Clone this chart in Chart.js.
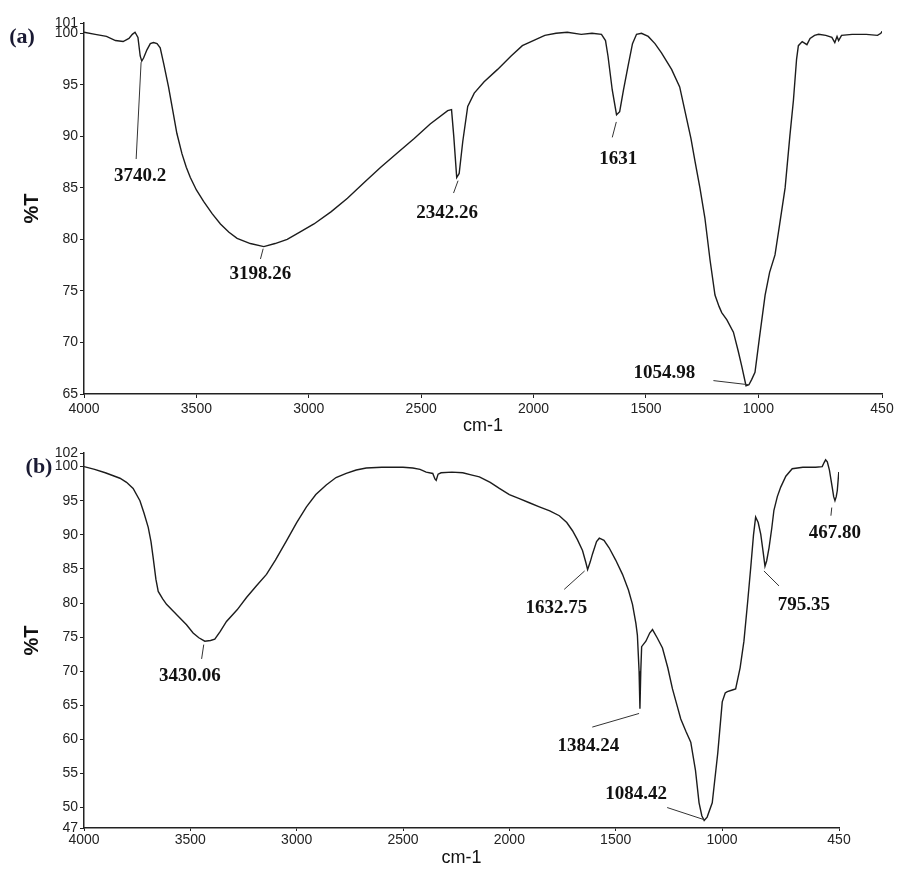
<!DOCTYPE html>
<html>
<head>
<meta charset="utf-8">
<script src="https://cdn.jsdelivr.net/npm/chart.js@4.4.1/dist/chart.umd.min.js"></script>
<style>
  body { margin: 0; background: #fff; }
  #wrap { position: relative; width: 899px; height: 869px; }
  canvas { position: absolute; left: 0; }
</style>
</head>
<body>
<div id="wrap">
  <canvas id="ftir-a" width="899" height="440" style="top:0"></canvas>
  <canvas id="ftir-b" width="899" height="429" style="top:440px"></canvas>
</div>
<script>
// spectrum (a) - wavenumber (cm-1) and %T
const waveA = [4000, 3950, 3900, 3860, 3826, 3800, 3785, 3773, 3760, 3750, 3743, 3735, 3720, 3705, 3691, 3675, 3661, 3645, 3624, 3605,
  3587, 3564, 3545, 3527, 3500, 3468, 3430, 3393, 3355, 3319, 3260, 3200, 3150, 3096, 3040, 2977, 2900, 2828, 2750, 2680,
  2600, 2531, 2460, 2382, 2365, 2355, 2342, 2331, 2315, 2293, 2264, 2220, 2160, 2100, 2050, 2011, 1950, 1900, 1850, 1788,
  1740, 1698, 1680, 1669, 1650, 1631, 1617, 1600, 1580, 1560, 1542, 1520, 1490, 1460, 1431, 1386, 1350, 1327, 1300, 1282,
  1260, 1238, 1215, 1193, 1175, 1163, 1140, 1111, 1090, 1074, 1055, 1042, 1030, 1015, 995, 970, 950, 926, 905, 881,
  860, 844, 830, 822, 805, 784, 770, 750, 732, 700, 673, 660, 650, 643, 630, 583, 520, 470, 455, 450];
const transA = [100.1, 99.9, 99.7, 99.3, 99.2, 99.5, 99.9, 100.1, 99.6, 97.8, 97.3, 97.6, 98.4, 99.0, 99.1, 99.0, 98.6, 97.0, 94.8, 92.5,
  90.3, 88.3, 87.0, 86.0, 84.8, 83.7, 82.5, 81.5, 80.7, 80.1, 79.6, 79.3, 79.6, 80.0, 80.7, 81.5, 82.7, 84.0, 85.6, 87.0,
  88.5, 89.8, 91.2, 92.5, 92.6, 90.0, 86.0, 86.4, 89.5, 92.9, 94.2, 95.3, 96.5, 97.8, 98.8, 99.2, 99.8, 100.0, 100.1, 99.9,
  100.0, 99.9, 99.3, 97.8, 94.5, 92.1, 92.4, 94.5, 96.8, 99.0, 99.9, 100.0, 99.7, 99.0, 98.1, 96.5, 94.8, 92.5, 89.8, 87.6,
  85.0, 82.1, 78.0, 74.6, 73.5, 72.9, 72.2, 71.0, 69.2, 67.7, 65.8, 65.9, 66.4, 67.1, 70.5, 74.6, 76.8, 78.5, 81.5, 85.0,
  90.0, 93.5, 97.5, 98.8, 99.2, 98.9, 99.5, 99.8, 99.9, 99.8, 99.6, 99.1, 99.7, 99.3, 99.8, 99.9, 99.9, 99.8, 100.0, 100.2];

// spectrum (b)
const waveB = [4000, 3950, 3900, 3831, 3800, 3769, 3737, 3718, 3698, 3685, 3675, 3662, 3651, 3630, 3612, 3580, 3549, 3518, 3487, 3460,
  3432, 3405, 3385, 3360, 3330, 3280, 3236, 3190, 3142, 3100, 3048, 3000, 2954, 2910, 2861, 2815, 2767, 2720, 2673, 2600,
  2500, 2454, 2420, 2391, 2360, 2350, 2344, 2335, 2321, 2270, 2219, 2180, 2141, 2090, 2047, 2000, 1953, 1906, 1859, 1810,
  1765, 1730, 1703, 1680, 1656, 1640, 1632, 1620, 1609, 1590, 1577, 1555, 1531, 1500, 1468, 1440, 1421, 1405, 1398, 1390,
  1386, 1382, 1378, 1358, 1340, 1327, 1305, 1280, 1255, 1233, 1210, 1194, 1170, 1147, 1125, 1108, 1095, 1084, 1070, 1046,
  1020, 999, 985, 975, 955, 936, 915, 897, 880, 865, 852, 842, 830, 818, 808, 798, 790, 779, 766, 756,
  740, 724, 700, 670, 620, 560, 529, 520, 513, 505, 495, 482, 475, 469, 463, 458, 451];
const transB = [100.0, 99.6, 99.1, 98.3, 97.7, 96.8, 95.0, 93.2, 91.1, 89.0, 86.7, 83.5, 81.7, 80.6, 79.8, 78.8, 77.8, 76.8, 75.6, 74.9,
  74.4, 74.5, 74.7, 75.8, 77.3, 79.0, 80.8, 82.5, 84.2, 86.3, 89.1, 91.8, 94.1, 95.9, 97.3, 98.4, 99.0, 99.5, 99.8, 99.9,
  99.9, 99.8, 99.6, 99.2, 99.0, 98.2, 98.0, 98.9, 99.1, 99.2, 99.1, 98.8, 98.5, 97.7, 96.8, 95.9, 95.3, 94.7, 94.1, 93.5,
  92.8, 91.8, 90.6, 89.3, 87.7, 85.9, 84.9, 86.0, 87.2, 89.0, 89.5, 89.2, 88.1, 86.3, 84.2, 81.9, 79.8, 77.0, 75.3, 70.0,
  64.5, 70.0, 73.6, 74.4, 75.6, 76.1, 74.9, 73.4, 70.5, 67.4, 64.8, 63.0, 61.2, 59.6, 55.5, 50.7, 48.8, 48.1, 48.6, 50.7,
  58.0, 65.5, 66.8, 67.0, 67.2, 67.4, 70.5, 74.4, 80.0, 85.2, 90.0, 92.6, 91.8, 90.1, 87.8, 85.4, 86.2, 88.1, 91.0, 93.6,
  95.6, 97.0, 98.6, 99.7, 99.9, 99.9, 100.0, 100.6, 101.0, 100.7, 99.5, 97.0, 95.6, 95.0, 95.6, 96.5, 99.2];

const xTickValues = [4000, 3500, 3000, 2500, 2000, 1500, 1000, 450];
const yTicksA = [65, 70, 75, 80, 85, 90, 95, 100, 101];
const yTicksB = [47, 50, 55, 60, 65, 70, 75, 80, 85, 90, 95, 100, 102];

// peak labels: text, leader line (tip -> tail) and text centre, in [cm-1, %T]
const peakTextA = ['3740.2', '3198.26', '2342.26', '1631', '1054.98'];
const peakTipA = [[3746, 97.2], [3203, 79.1], [2336, 85.7], [1632, 91.4], [1044, 65.9]];
const peakTailA = [[3768, 87.8], [3215, 78.1], [2356, 84.5], [1650, 89.9], [1200, 66.3]];
const peakTextAtA = [[3750, 86.1], [3215, 76.6], [2385, 82.6], [1623, 87.8], [1418, 67.0]];

const peakTextB = ['3430.06', '1632.75', '1384.24', '1084.42', '795.35', '467.80'];
const peakTipB = [[3437, 73.9], [1646, 84.7], [1390, 63.8], [1082, 48.2], [803, 84.7], [484, 94.0]];
const peakTailB = [[3447, 71.8], [1742, 82.0], [1610, 61.8], [1258, 50.0], [732, 82.5], [488, 92.8]];
const peakTextAtB = [[3502, 69.3], [1779, 79.2], [1629, 59.0], [1404, 52.0], [615, 79.7], [469, 90.2]];

const sansFont = '"Liberation Sans", Arial, sans-serif';
const serifFont = '"Liberation Serif", "Times New Roman", serif';

const peakPlugin = {
  id: 'peakLabels',
  afterDatasetsDraw(chart, args, opts) {
    const { ctx } = chart;
    const x = chart.scales.x, y = chart.scales.y;
    ctx.save();
    ctx.strokeStyle = '#333';
    ctx.lineWidth = 1;
    opts.text.forEach((t, i) => {
      ctx.beginPath();
      ctx.moveTo(x.getPixelForValue(opts.tip[i][0]), y.getPixelForValue(opts.tip[i][1]));
      ctx.lineTo(x.getPixelForValue(opts.tail[i][0]), y.getPixelForValue(opts.tail[i][1]));
      ctx.stroke();
    });
    ctx.fillStyle = '#111';
    ctx.font = 'bold 19px ' + serifFont;
    ctx.textAlign = 'center';
    ctx.textBaseline = 'middle';
    opts.text.forEach((t, i) => {
      ctx.fillText(t, x.getPixelForValue(opts.at[i][0]), y.getPixelForValue(opts.at[i][1]));
    });
    // panel tag
    ctx.font = 'bold 22px ' + serifFont;
    ctx.fillStyle = '#1a1a33';
    ctx.fillText(opts.tag, opts.tagX, opts.tagY);
    ctx.restore();
  }
};

function buildChart(id, c) {
  const points = c.waves.map((w, i) => ({ x: w, y: c.trans[i] }));
  return new Chart(document.getElementById(id).getContext('2d'), {
    type: 'line',
    data: {
      datasets: [{
        data: points,
        borderColor: '#1c1c1c',
        borderWidth: 1.4,
        pointRadius: 0,
        tension: 0,
        fill: false
      }]
    },
    options: {
      responsive: false,
      animation: false,
      layout: { padding: c.padding },
      plugins: {
        legend: { display: false },
        tooltip: { enabled: false },
        peakLabels: { text: c.text, tip: c.tip, tail: c.tail, at: c.at, tag: c.tag, tagX: c.tagX, tagY: c.tagY }
      },
      scales: {
        x: {
          type: 'linear',
          reverse: true,
          min: 450,
          max: 4000,
          afterBuildTicks: s => { s.ticks = xTickValues.map(v => ({ value: v })); },
          afterFit: s => { s.height = c.xHeight; },
          grid: { drawOnChartArea: false, tickLength: c.tickLen, color: '#222' },
          border: { color: '#222', width: 1.5 },
          ticks: {
            autoSkip: false,
            maxRotation: 0,
            padding: c.tickPad,
            color: '#222',
            font: { family: sansFont, size: 14 },
            callback: v => String(v)
          },
          title: {
            display: true,
            text: 'cm-1',
            color: '#111',
            font: { family: sansFont, size: 18 },
            padding: { top: 0, bottom: c.titlePad }
          }
        },
        y: {
          min: c.yMin,
          max: c.yMax,
          afterBuildTicks: s => { s.ticks = c.yTicks.map(v => ({ value: v })); },
          afterFit: s => { s.width = 84; },
          grid: { drawOnChartArea: false, tickLength: 4, color: '#222' },
          border: { color: '#222', width: 1.5 },
          ticks: {
            autoSkip: false,
            padding: 2,
            color: '#222',
            font: { family: sansFont, size: 14 },
            callback: v => String(v)
          },
          title: {
            display: true,
            text: '%T',
            color: '#111',
            font: { family: sansFont, size: 20, weight: 'bold' },
            padding: { top: 20, bottom: 0 }
          }
        }
      }
    },
    plugins: [peakPlugin]
  });
}

buildChart('ftir-a', {
  waves: waveA, trans: transA, yTicks: yTicksA, yMin: 65, yMax: 101,
  padding: { left: 0, top: 23, right: 17, bottom: 0 },
  xHeight: 46, tickLen: 4, tickPad: 3, titlePad: 3,
  text: peakTextA, tip: peakTipA, tail: peakTailA, at: peakTextAtA,
  tag: '(a)', tagX: 22, tagY: 37
});

buildChart('ftir-b', {
  waves: waveB, trans: transB, yTicks: yTicksB, yMin: 47, yMax: 102,
  padding: { left: 0, top: 13, right: 60, bottom: 0 },
  xHeight: 41, tickLen: 3, tickPad: 1, titlePad: 0,
  text: peakTextB, tip: peakTipB, tail: peakTailB, at: peakTextAtB,
  tag: '(b)', tagX: 39, tagY: 27
});
</script>
</body>
</html>
